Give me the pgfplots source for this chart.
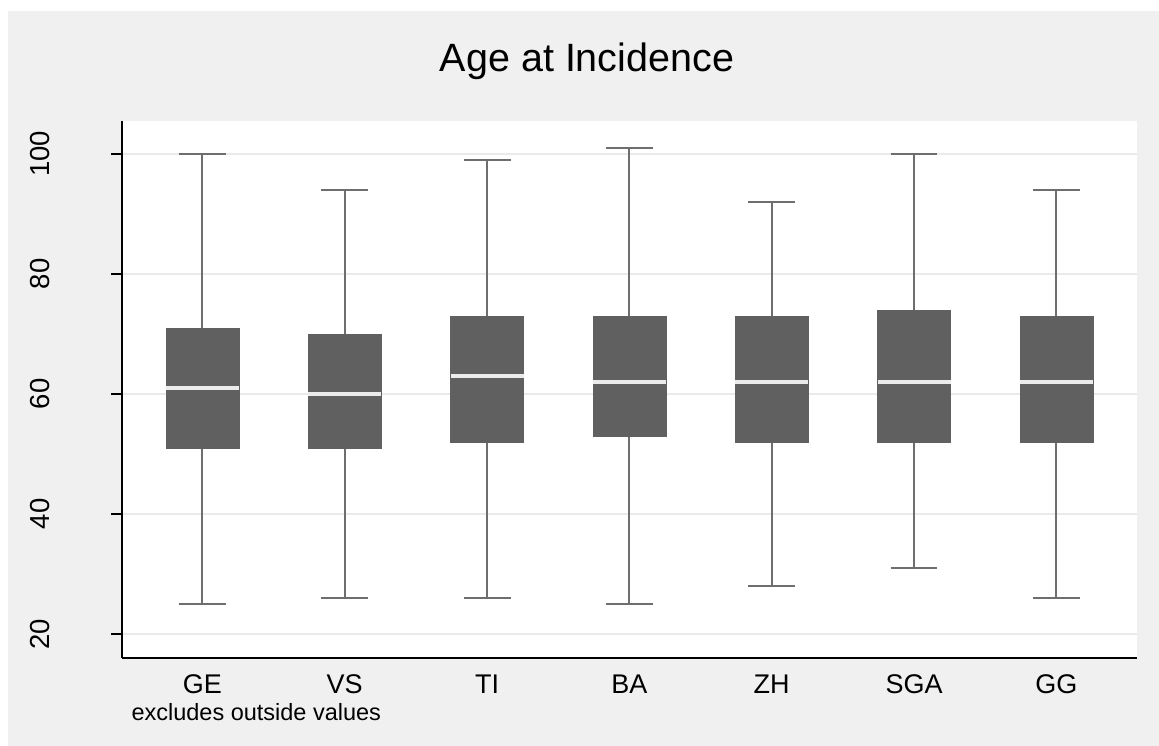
\documentclass[border=0pt]{standalone}
\usepackage{fontspec}
\setmainfont{Liberation Sans}
\usepackage{pgfplots}
\pgfplotsset{compat=1.18}
\usepgfplotslibrary{statistics}
\definecolor{bgc}{HTML}{F0F0F0}
\definecolor{gridc}{HTML}{EAEAEA}
\definecolor{boxc}{HTML}{606060}
\definecolor{whc}{HTML}{6E6E6E}
\definecolor{medc}{HTML}{EBEBEB}
\begin{document}
\begin{tikzpicture}[x=1pt,y=1pt]
\fill[white] (0,0) rectangle (1159,746);
\fill[bgc] (8,0) rectangle (1159,735);
\node[anchor=base,font=\fontsize{39.5}{40}\selectfont] at (587,674.3) {Age at Incidence};
\node[anchor=base west,font=\fontsize{23.5}{24}\selectfont] at (128,25) {excludes outside values};
\begin{axis}[
  at={(122pt,88pt)}, anchor=south west,
  scale only axis, width=1014.7pt, height=537pt,
  xmin=-0.565, xmax=6.565, ymin=16, ymax=105.5,
  axis lines=left, axis line style={-, line width=1.5pt, black},
  xtick={0,1,2,3,4,5,6}, xticklabels={GE,VS,TI,BA,ZH,SGA,GG},
  x tick style={draw=none},
  ytick={20,40,60,80,100},
  y tick style={line width=1.5pt, black},
  tick align=outside, major tick length=11pt,
  ymajorgrids, grid style={gridc, line width=1.5pt},
  axis background/.style={fill=white},
  /pgf/number format/assume math mode=true,
  xticklabel style={font=\fontsize{27}{27}\selectfont, anchor=base, inner sep=0pt},
  xticklabel shift=25pt,
  yticklabel style={font=\fontsize{27.5}{28}\selectfont, rotate=90, anchor=base, inner sep=0pt},
  yticklabel shift=62pt,
  boxplot/draw direction=y,
  boxplot/box extend=0.513,
  boxplot/whisker extend=0.33,
  boxplot/every box/.style={fill=boxc, draw=boxc, line width=0.5pt},
  boxplot/every whisker/.style={draw=whc, line width=2pt},
  boxplot/every median/.style={draw=medc, line width=3.5pt},
]
\addplot[boxplot prepared={draw position=0, lower whisker=25, lower quartile=51, median=61, upper quartile=71, upper whisker=100}] coordinates {};
\addplot[boxplot prepared={draw position=1, lower whisker=26, lower quartile=51, median=60, upper quartile=70, upper whisker=94}] coordinates {};
\addplot[boxplot prepared={draw position=2, lower whisker=26, lower quartile=52, median=63, upper quartile=73, upper whisker=99}] coordinates {};
\addplot[boxplot prepared={draw position=3, lower whisker=25, lower quartile=53, median=62, upper quartile=73, upper whisker=101}] coordinates {};
\addplot[boxplot prepared={draw position=4, lower whisker=28, lower quartile=52, median=62, upper quartile=73, upper whisker=92}] coordinates {};
\addplot[boxplot prepared={draw position=5, lower whisker=31, lower quartile=52, median=62, upper quartile=74, upper whisker=100}] coordinates {};
\addplot[boxplot prepared={draw position=6, lower whisker=26, lower quartile=52, median=62, upper quartile=73, upper whisker=94}] coordinates {};
\end{axis}
\end{tikzpicture}
\end{document}
